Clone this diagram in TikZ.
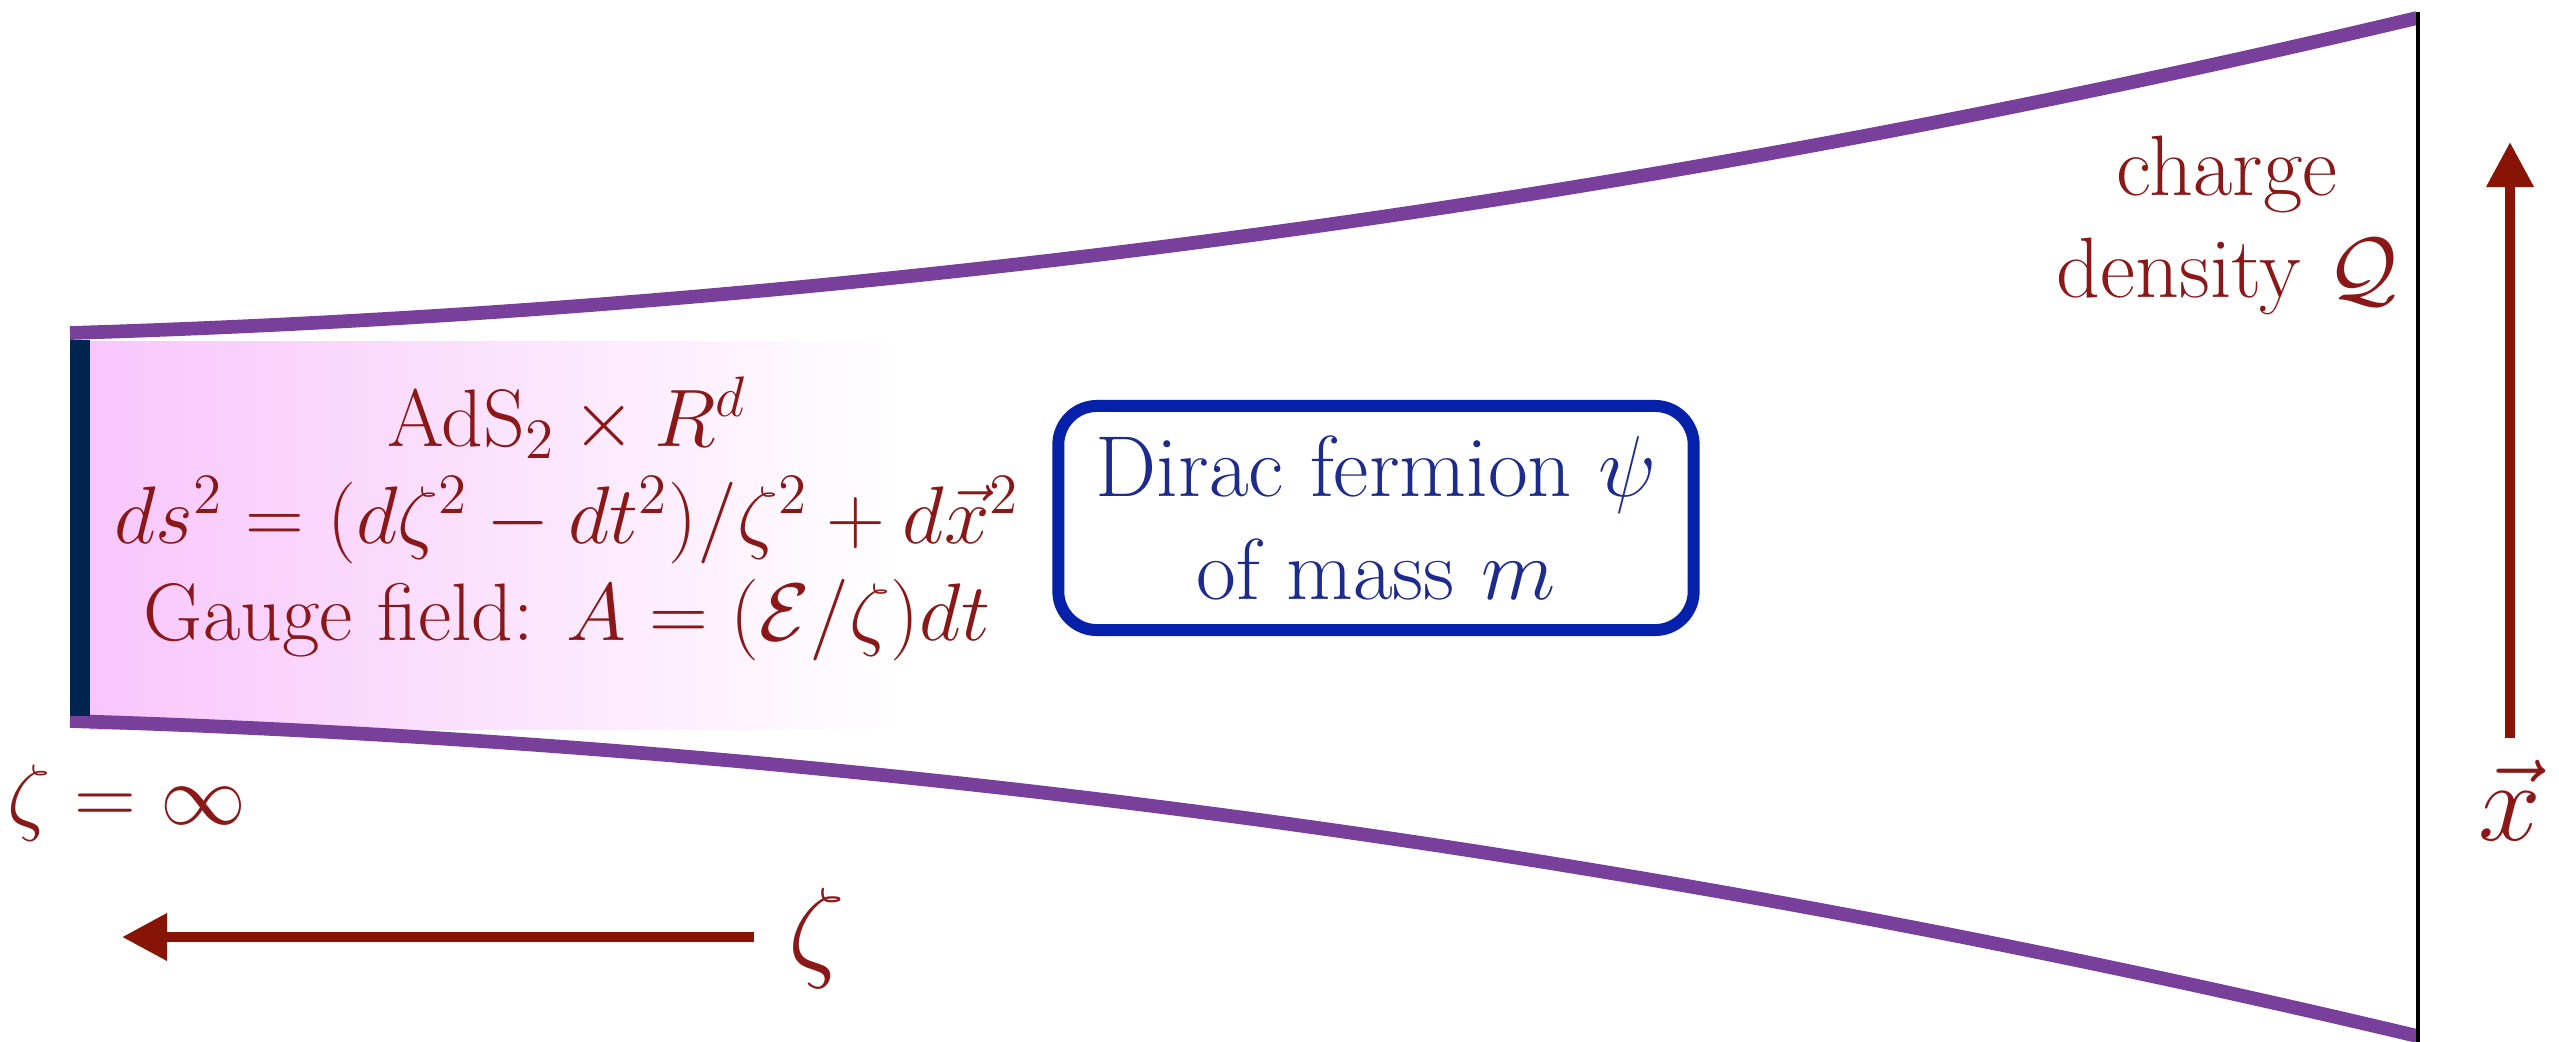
\documentclass[tikz,border=0pt]{standalone}
\usepackage{fix-cm}
\usepackage{amsmath}
\usetikzlibrary{arrows.meta}
\definecolor{purp}{RGB}{120,63,155}
\definecolor{navybar}{RGB}{0,36,80}
\definecolor{darkred}{RGB}{138,24,24}
\definecolor{arrowred}{RGB}{136,20,6}
\definecolor{boxblue}{RGB}{5,33,170}
\definecolor{txtblue}{RGB}{28,43,140}
\definecolor{pinkL}{RGB}{248,198,252}
\tikzset{
  redtxt/.style={text=darkred, font=\fontsize{24.4}{29}\selectfont, align=center, inner sep=0pt},
  metrictxt/.style={text=darkred, font=\fontsize{23.2}{27.6}\selectfont, align=center, inner sep=0pt},
  axislabel/.style={text=darkred, font=\fontsize{32}{38}\selectfont, inner sep=0pt},
  diracbox/.style={draw=boxblue, line width=3.4pt, rounded corners=11pt, text=txtblue,
     font=\fontsize{24.6}{29.5}\selectfont, align=center, minimum width=6.35cm, minimum height=2.24cm},
  wallcurve/.style={draw=purp, line width=3.9pt},
  axisarrow/.style={draw=arrowred, line width=2.85pt, -{Triangle[length=12.8pt,width=12.8pt]}}
}
\begin{document}
\begin{tikzpicture}[x=0.01cm,y=-0.01cm]
\useasboundingbox (0,0) rectangle (2559,1042);
% gradient region
\shade[left color=pinkL, right color=white] (90,341) rectangle (900,729);
% walls
\draw[wallcurve] (70,333) .. controls (852,309) and (1635,204) .. (2417,18);
\draw[wallcurve] (70,721) .. controls (852,745) and (1635,850) .. (2417,1036);
\fill[navybar] (70,340) rectangle (90,716);
\draw[line width=1.3pt] (2418,12) -- (2418,1042);
% texts
\node[metrictxt] (ads) at (567,519) {AdS$_2\times R^d$\\ $ds^2=(d\zeta^2-dt^2)/\zeta^2+d\vec{x}^2$\\ Gauge field: $A=(\mathcal{E}/\zeta)dt$};
\node[diracbox] (dirac) at (1376,518) {Dirac fermion $\psi$\\ of mass $m$};
\node[redtxt] (charge) at (2227,225) {charge\\ density $\mathcal{Q}$};
\node[redtxt] (zinf) at (127,803) {$\zeta=\infty$};
% axes
\coordinate (xtail) at (2510,738);
\coordinate (xhead) at (2510,142);
\draw[axisarrow] (xtail) -- (xhead);
\node[axislabel] (xlab) at (2510,800) {$\vec{x}$};
\coordinate (ztail) at (754,937);
\coordinate (zhead) at (122,937);
\draw[axisarrow] (ztail) -- (zhead);
\node[axislabel] (zlab) at (817,938) {$\zeta$};
\end{tikzpicture}
\end{document}
